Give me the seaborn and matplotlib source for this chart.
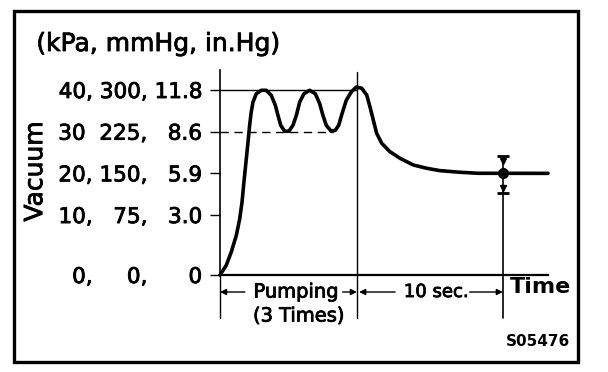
import numpy as np
import matplotlib
matplotlib.use("Agg")
import matplotlib.pyplot as plt
import matplotlib.patheffects as pe
import seaborn as sns
import pandas as pd
from matplotlib.patches import Rectangle

# ---------------- data ----------------
time_s = [0.0, 0.43, 0.77, 1.12, 1.35, 1.51, 1.64, 1.78, 1.92, 2.03, 2.14, 2.26,
          2.49, 2.83, 3.17, 3.51, 3.79, 3.97, 4.16, 4.43, 4.71, 5.00, 5.23, 5.46,
          5.75, 6.14, 6.53, 6.83, 7.05, 7.28, 7.62, 7.90, 8.13, 8.36, 8.65, 8.99,
          9.34, 9.71, 10.05, 10.27, 10.50, 10.73, 11.08, 11.64, 12.33, 13.24,
          14.16, 15.07, 16.44, 17.69, 22.47]
vacuum_kpa = [0.0, 1.62, 3.83, 6.62, 9.38, 13.14, 17.94, 22.73, 27.53, 31.53, 34.72,
              37.12, 39.11, 39.93, 39.93, 38.73, 36.33, 33.93, 31.53, 30.10, 30.10,
              31.53, 33.93, 37.12, 39.11, 39.93, 39.11, 36.71, 33.93, 31.53, 30.10,
              30.34, 31.53, 34.32, 37.53, 39.52, 40.72, 40.41, 38.80, 36.00, 32.81,
              29.62, 27.22, 25.20, 23.62, 22.01, 21.22, 20.65, 20.26, 20.02, 20.0]

ytick_vals = [0, 10, 20, 30, 40]
ytick_labels = ["0,     0,      0", "10,   75,   3.0", "20, 150,   5.9",
                "30  225,   8.6", "40, 300, 11.8"]
upper_ref = 40.0        # solid reference line
lower_ref = 30.0        # dashed reference line
dash_end = 7.74         # dashed line ends at 2nd trough
pump_end = 9.38         # end of pumping (3 times)
measure_t = pump_end + 10.0
steady = 20.0
tol_hi, tol_lo = 24.2, 15.3
x_max = 22.47
y_max = 44.8

# ---------------- style ----------------
sns.set_style("white")
plt.rcParams["font.family"] = ["DejaVu Sans"]
plt.rcParams.update({"text.color": "black", "axes.labelcolor": "black",
                     "xtick.color": "black", "ytick.color": "black",
                     "axes.edgecolor": "black"})
bold_fx = [pe.withStroke(linewidth=0.6, foreground="black")]

W, H = 608, 372
fig = plt.figure(figsize=(W / 100, H / 100), dpi=100)
ax = fig.add_axes([220 / W, (H - 275) / H, 328 / W, 205 / H])


def fwd(v):
    v = np.asarray(v, dtype=float)
    return np.where(v <= 10, 6.0 * v, 60.0 + 4.17 * (v - 10.0))


def inv(u):
    u = np.asarray(u, dtype=float)
    return np.where(u <= 60, u / 6.0, 10.0 + (u - 60.0) / 4.17)


ax.set_yscale("function", functions=(fwd, inv))

df = pd.DataFrame({"t": time_s, "v": vacuum_kpa})
sns.lineplot(data=df, x="t", y="v", ax=ax, color="black", lw=2.6,
             sort=False, clip_on=False, zorder=5)
ax.lines[-1].set_solid_joinstyle("round")
ax.lines[-1].set_solid_capstyle("round")

ax.set_xlim(0, x_max)
ax.set_ylim(0, y_max)

# reference lines
ax.hlines(upper_ref, 0, pump_end, color="black", lw=1.0)
ax.hlines(lower_ref, 0, dash_end, color="black", lw=1.0, linestyles=(0, (6, 4)))

# guide lines
ax.axvline(pump_end, ymin=-0.21, ymax=0.99, color="black", lw=1.0, clip_on=False)
ax.axvline(0, ymin=-0.21, ymax=0, color="black", lw=1.0, clip_on=False)
ax.axvline(measure_t, ymin=-0.21, ymax=0, color="black", lw=1.2, clip_on=False)
ax.vlines(measure_t, 0, tol_hi, color="black", lw=1.2)

# tolerance marker
ax.plot([measure_t, measure_t], [tol_hi, tol_lo], ls="none", marker="_",
        ms=9, mew=2, color="black", zorder=6)
ax.plot([measure_t], [steady], marker="o", ms=7, color="black", zorder=6)
ax.plot([measure_t, measure_t], [tol_hi - 1.3, tol_lo + 1.2], ls="none",
        marker="v", ms=5, color="black", zorder=6)

# axes styling
for s in ["top", "right"]:
    ax.spines[s].set_visible(False)
ax.spines["left"].set_linewidth(1.2)
ax.spines["bottom"].set_linewidth(1.6)
ax.set_yticks(ytick_vals)
ax.set_yticklabels(ytick_labels)
ax.yaxis.set_minor_locator(matplotlib.ticker.NullLocator())
ax.tick_params(axis="y", direction="out", length=7.2, width=1.0, pad=5.5,
               labelsize=15.5, left=True, colors="black")
for lab in ax.get_yticklabels():
    lab.set_path_effects(bold_fx)
ax.set_xticks([])
ax.set_ylabel("Vacuum", fontsize=18, path_effects=bold_fx)
ax.yaxis.set_label_coords(-0.527, 0.505)
ax.set_xlabel("Time", fontsize=16, fontweight="bold")
ax.xaxis.set_label_coords(0.976, -0.059)
ax.xaxis.label.set_va("center")
ax.patch.set_alpha(0)

# annotations below axis
xt = ax.get_xaxis_transform()
ya = -0.083
arrow_kw = dict(arrowstyle="-|>", lw=1.0, color="black", mutation_scale=9,
                shrinkA=0, shrinkB=0)
for tail, head in [(1.7, 0.0), (8.4, pump_end), (12.0, pump_end + 0.15),
                   (17.1, measure_t)]:
    ax.annotate("", xy=(head, ya), xytext=(tail, ya), xycoords=xt,
                textcoords=xt, arrowprops=arrow_kw)
ax.text(5.2, ya, "Pumping", transform=xt, ha="center", va="center", fontsize=14,
        path_effects=bold_fx)
ax.text(5.4, -0.2, "(3 Times)", transform=xt, ha="center", va="center", fontsize=14,
        path_effects=bold_fx)
ax.text(14.8, ya, "10 sec.", transform=xt, ha="center", va="center", fontsize=13,
        path_effects=bold_fx)

# title units and code
fig.text(158.5 / W, 1 - 44 / H, "(kPa, mmHg, in.Hg)", ha="center", va="center",
         fontsize=18, path_effects=bold_fx)
fig.text(538 / W, 1 - 342 / H, "S05476", ha="center", va="center",
         fontsize=11, fontweight="bold")

# frame
fig.patches.append(Rectangle((14 / W, (H - 362) / H), (578 - 14) / W, (362 - 11) / H,
                             transform=fig.transFigure, fill=False, lw=2.4,
                             ec="black"))

fig.savefig("out.png", dpi=100)
